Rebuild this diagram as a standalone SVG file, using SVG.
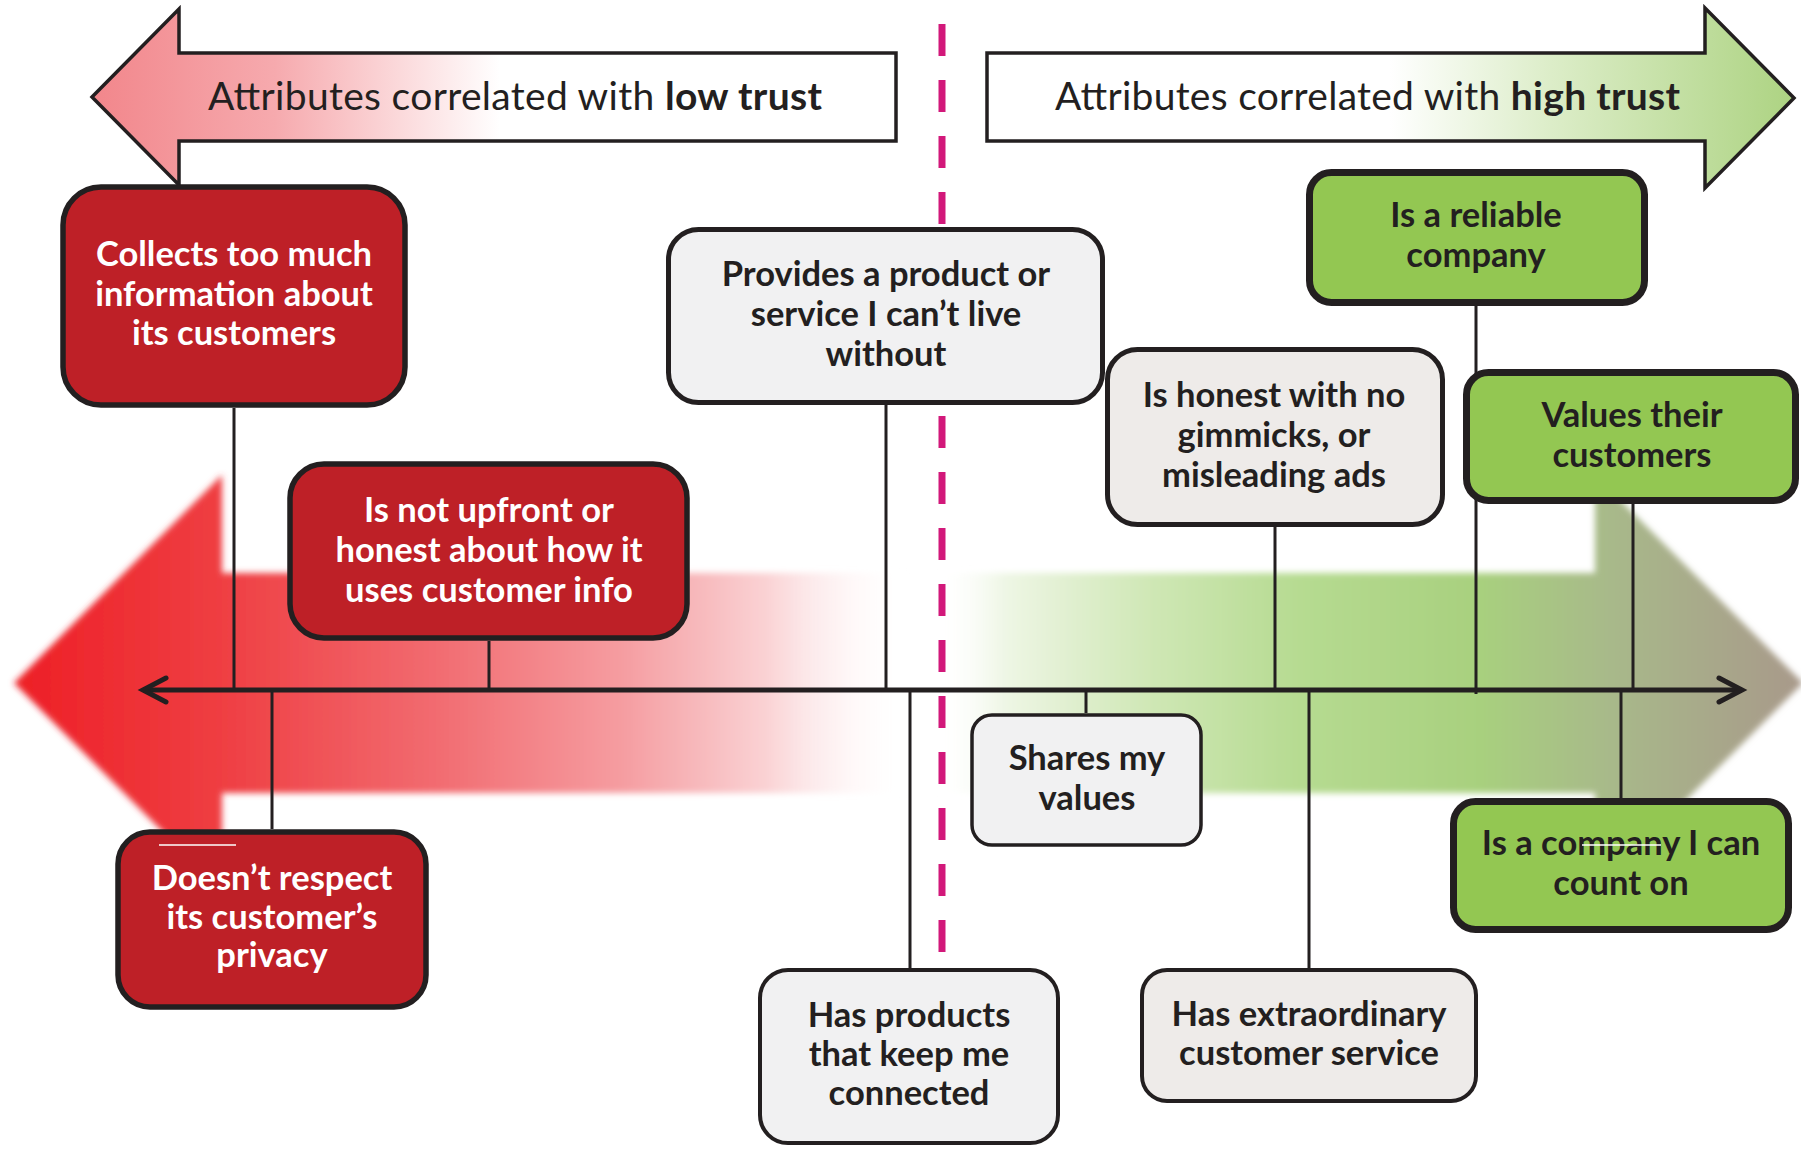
<svg xmlns="http://www.w3.org/2000/svg" width="1801" height="1151" viewBox="0 0 1801 1151">
<style>
.hdr{font-family:Lato,"Open Sans","Liberation Sans",sans-serif;font-size:39px;fill:#231f20}
.hdr .b{font-weight:bold}
.lbl{font-family:Lato,"Open Sans","Liberation Sans",sans-serif;font-size:34.5px;font-weight:bold;text-anchor:middle}
.w{fill:#ffffff}
.d{fill:#231f20}
.red{fill:#be2027;stroke:#231f20;stroke-width:5.5}
.grn{fill:#93c752;stroke:#231f20;stroke-width:7}
.gry{fill:#f1f1f2;stroke:#231f20}
.wgry{fill:#eeebe9;stroke:#231f20}
.conn line{stroke:#231f20;stroke-width:3}
.hbox{stroke:#231f20;stroke-width:3.5;stroke-linejoin:miter}
</style>
<defs>
<linearGradient id="gLow" gradientUnits="userSpaceOnUse" x1="92" y1="0" x2="500" y2="0">
<stop offset="0" stop-color="#f2868b"/>
<stop offset="0.45" stop-color="#f6aaae"/>
<stop offset="1" stop-color="#ffffff"/>
</linearGradient>
<linearGradient id="gHigh" gradientUnits="userSpaceOnUse" x1="1390" y1="0" x2="1794" y2="0">
<stop offset="0" stop-color="#ffffff"/>
<stop offset="0.4" stop-color="#dcedc8"/>
<stop offset="1" stop-color="#add382"/>
</linearGradient>
<linearGradient id="gRed" gradientUnits="userSpaceOnUse" x1="14" y1="0" x2="910" y2="0">
<stop offset="0" stop-color="#ed1f26"/>
<stop offset="0.23" stop-color="#ef3e42"/>
<stop offset="0.47" stop-color="#f26b70"/>
<stop offset="0.68" stop-color="#f59da1"/>
<stop offset="0.84" stop-color="#fad2d4"/>
<stop offset="1" stop-color="#ffffff" stop-opacity="0"/>
</linearGradient>
<linearGradient id="gGreen" gradientUnits="userSpaceOnUse" x1="935" y1="0" x2="1801" y2="0">
<stop offset="0" stop-color="#ffffff" stop-opacity="0"/>
<stop offset="0.08" stop-color="#eef6e5"/>
<stop offset="0.25" stop-color="#cfe7b5"/>
<stop offset="0.42" stop-color="#b6db91"/>
<stop offset="0.63" stop-color="#a8d07e"/>
<stop offset="0.78" stop-color="#a8b98a"/>
<stop offset="1" stop-color="#a8998a"/>
</linearGradient>
<filter id="soft" x="-5%" y="-10%" width="110%" height="120%">
<feGaussianBlur stdDeviation="3"/>
</filter>
</defs>
<rect width="1801" height="1151" fill="#ffffff"/>

<g id="background-arrow" filter="url(#soft)">
<polygon points="14,683 222,475 222,573 910,573 910,793 222,793 222,891" fill="url(#gRed)"/>
<polygon points="935,573 1595,573 1595,475 1803,683 1595,891 1595,793 935,793" fill="url(#gGreen)"/>
</g>

<g id="low-trust-header">
<polygon class="hbox" points="92,97 179,9 179,53 896,53 896,141 179,141 179,185" fill="url(#gLow)"/>
<text class="hdr" x="208" y="110" textLength="614">Attributes correlated with <tspan class="b">low trust</tspan></text>
</g>
<g id="high-trust-header">
<polygon class="hbox" points="987,53 1705,53 1705,8 1794,98 1705,188 1705,141 987,141" fill="url(#gHigh)"/>
<text class="hdr" x="1055" y="110" textLength="625">Attributes correlated with <tspan class="b">high trust</tspan></text>
</g>

<g id="divider">
<line x1="942" y1="24" x2="942" y2="956" stroke="#d2187a" stroke-width="7" stroke-dasharray="32 24"/>
</g>

<g id="connectors" class="conn">
<line x1="234" y1="408" x2="234" y2="690"/>
<line x1="489" y1="641" x2="489" y2="690"/>
<line x1="272" y1="690" x2="272" y2="829"/>
<line x1="886" y1="405" x2="886" y2="690"/>
<line x1="910" y1="690" x2="910" y2="968"/>
<line x1="1086" y1="690" x2="1086" y2="713"/>
<line x1="1275" y1="527" x2="1275" y2="690"/>
<line x1="1309" y1="690" x2="1309" y2="968"/>
<line x1="1476" y1="306" x2="1476" y2="694"/>
<line x1="1633" y1="504" x2="1633" y2="690"/>
<line x1="1621" y1="690" x2="1621" y2="798"/>
<g id="axis">
<line x1="143" y1="690" x2="1742" y2="690" style="stroke-width:5"/>
<polyline points="166,678 143,690 166,702" fill="none" stroke="#231f20" stroke-width="5" stroke-linecap="round" stroke-linejoin="miter"/>
<polyline points="1719,678 1742,690 1719,702" fill="none" stroke="#231f20" stroke-width="5" stroke-linecap="round" stroke-linejoin="miter"/>
</g>
</g>

<g id="node-collects">
<rect class="red" x="63" y="187" width="342" height="218" rx="38"/>
<text class="lbl w" x="234" y="266">Collects too much</text>
<text class="lbl w" x="234" y="306">information about</text>
<text class="lbl w" x="234" y="345">its customers</text>
</g>
<g id="node-upfront">
<rect class="red" x="290" y="464" width="397" height="174" rx="34"/>
<text class="lbl w" x="489" y="522">Is not upfront or</text>
<text class="lbl w" x="489" y="562">honest about how it</text>
<text class="lbl w" x="489" y="602">uses customer info</text>
</g>
<g id="node-privacy">
<rect class="red" x="118" y="832" width="308" height="175" rx="32"/>
<line x1="159" y1="845" x2="236" y2="845" stroke="#ffffff" stroke-width="1.5"/>
<text class="lbl w" x="272" y="890">Doesn’t respect</text>
<text class="lbl w" x="272" y="929">its customer’s</text>
<text class="lbl w" x="272" y="967">privacy</text>
</g>
<g id="node-provides">
<rect class="gry" stroke-width="5" x="668.5" y="229.5" width="434" height="173" rx="30"/>
<text class="lbl d" x="886" y="286">Provides a product or</text>
<text class="lbl d" x="886" y="326">service I can’t live</text>
<text class="lbl d" x="886" y="366">without</text>
</g>
<g id="node-connected">
<rect class="gry" stroke-width="4" x="760" y="970" width="298" height="173" rx="28"/>
<text class="lbl d" x="909" y="1027">Has products</text>
<text class="lbl d" x="909" y="1066">that keep me</text>
<text class="lbl d" x="909" y="1105">connected</text>
</g>
<g id="node-values">
<rect class="gry" stroke-width="3.5" x="972" y="715" width="229" height="130" rx="20"/>
<text class="lbl d" x="1087" y="770">Shares my</text>
<text class="lbl d" x="1087" y="810">values</text>
</g>
<g id="node-honest">
<rect class="wgry" stroke-width="5" x="1107.5" y="349.5" width="335" height="175" rx="30"/>
<text class="lbl d" x="1274" y="407">Is honest with no</text>
<text class="lbl d" x="1274" y="447">gimmicks, or</text>
<text class="lbl d" x="1274" y="487">misleading ads</text>
</g>
<g id="node-service">
<rect class="wgry" stroke-width="4" x="1142" y="970" width="334" height="131" rx="25"/>
<text class="lbl d" x="1309" y="1026">Has extraordinary</text>
<text class="lbl d" x="1309" y="1065">customer service</text>
</g>
<g id="node-reliable">
<rect class="grn" x="1309.5" y="172.5" width="335" height="130" rx="22"/>
<text class="lbl d" x="1476" y="227">Is a reliable</text>
<text class="lbl d" x="1476" y="267">company</text>
</g>
<g id="node-customers">
<rect class="grn" x="1466.5" y="372.5" width="329" height="128" rx="22"/>
<text class="lbl d" x="1632" y="427">Values their</text>
<text class="lbl d" x="1632" y="467">customers</text>
</g>
<g id="node-countl">
<rect class="grn" x="1453.5" y="801.5" width="335" height="128" rx="22"/>
<text class="lbl d" x="1621" y="855">Is a company I can</text>
<text class="lbl d" x="1621" y="895">count on</text>
<line x1="1582" y1="845" x2="1661" y2="845" stroke="#ffffff" stroke-width="1.5"/>
</g>
</svg>
